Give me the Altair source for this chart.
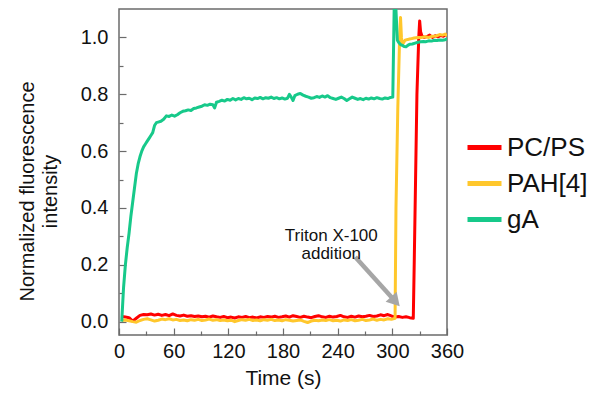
import altair as alt
import pandas as pd

# ---------------- data ----------------
series_names = ["PC/PS", "PAH[4]", "gA"]
series_colors = ["#FF0000", "#FFC72C", "#17C98A"]

red_t = [3, 7, 11, 15, 19, 23, 27, 31, 35, 39, 43, 47, 51, 55, 59, 63, 67, 71, 75, 79,
         83, 87, 91, 95, 99, 103, 107, 111, 115, 119, 123, 127, 131, 135, 139, 143, 147, 151, 155, 159,
         163, 167, 171, 175, 179, 183, 187, 191, 195, 199, 203, 207, 211, 215, 219, 223, 227, 231, 235, 239,
         243, 247, 251, 255, 259, 263, 267, 271, 275, 279, 283, 287, 291, 295, 299, 303, 307, 311, 315, 319,
         323, 324, 325.5, 327, 329, 330, 331, 332.5, 335, 338, 341, 344, 347, 350, 353, 356, 359, 360]
red_v = [0.018, 0.016, 0.014, 0.002, 0.012, 0.022, 0.025, 0.024, 0.027, 0.023, 0.026, 0.022, 0.025, 0.021, 0.027, 0.022, 0.020, 0.023, 0.019, 0.021,
         0.018, 0.020, 0.017, 0.019, 0.016, 0.020, 0.017, 0.015, 0.018, 0.014, 0.016, 0.013, 0.017, 0.015, 0.018, 0.014, 0.016, 0.013, 0.017, 0.015,
         0.018, 0.016, 0.019, 0.015, 0.017, 0.020, 0.016, 0.021, 0.018, 0.015, 0.019, 0.016, 0.014, 0.018, 0.021, 0.017, 0.015, 0.019, 0.016, 0.018,
         0.022, 0.017, 0.015, 0.019, 0.016, 0.020, 0.017, 0.019, 0.022, 0.018, 0.020, 0.024, 0.021, 0.025, 0.020, 0.016, 0.018, 0.015, 0.017, 0.014,
         0.012, 0.20, 0.50, 0.80, 1.00, 1.058, 1.02, 1.005, 1.000, 1.003, 1.008, 1.000, 1.006, 1.002, 1.007, 1.004, 1.010, 1.005]

yel_t = [3, 7, 11, 15, 19, 23, 27, 31, 35, 39, 43, 47, 51, 55, 59, 63, 67, 71, 75, 79,
         83, 87, 91, 95, 99, 103, 107, 111, 115, 119, 123, 127, 131, 135, 139, 143, 147, 151, 155, 159,
         163, 167, 171, 175, 179, 183, 187, 191, 195, 199, 203, 207, 211, 215, 219, 223, 227, 231, 235, 239,
         243, 247, 251, 255, 259, 263, 267, 271, 275, 279, 283, 287, 291, 295, 299, 303,
         304, 306, 308, 309, 310, 311, 312, 314, 317, 320, 324, 328, 332, 336, 340, 344, 348, 352, 355, 358, 360]
yel_v = [0.004, 0.006, 0.003, 0.000, -0.002, 0.004, 0.008, 0.010, 0.006, 0.002, 0.005, 0.009, 0.007, 0.010, 0.006, 0.008, 0.004, 0.006, 0.003, 0.007,
         0.005, 0.008, 0.004, 0.006, 0.009, 0.005, 0.007, 0.004, 0.006, 0.003, 0.005, 0.000, 0.004, 0.007, 0.005, 0.008, 0.004, 0.006, 0.003, 0.007,
         0.005, 0.008, 0.004, 0.006, 0.003, 0.007, 0.005, 0.002, 0.004, 0.006, 0.001, -0.003, 0.002, 0.005, 0.003, 0.006, 0.004, 0.007, 0.003, 0.005,
         0.002, 0.006, 0.004, 0.007, 0.003, 0.005, 0.008, 0.004, 0.006, 0.009, 0.005, 0.008, 0.006, 0.010, 0.008, 0.012,
         0.40, 0.75, 1.00, 1.07, 1.00, 0.975, 0.980, 0.990, 0.993, 0.995, 0.998, 1.000, 1.000, 1.002, 1.000, 1.004, 1.005, 1.010, 1.008, 1.012, 1.005]

grn_t = [3, 5, 7, 9, 11, 13, 15, 17, 19, 21, 23, 25, 27, 29, 31, 33, 35, 37, 39, 41,
         43, 46, 49, 52, 55, 58, 61, 64, 67, 70, 73, 76, 79, 82, 85, 88, 91, 94, 97, 100,
         103, 105, 107, 110, 113, 116, 119, 122, 125, 128, 131, 134, 137, 140, 143, 146, 149, 152, 155, 158,
         161, 164, 167, 170, 173, 176, 179, 182, 185, 187, 189, 191, 193, 196, 199, 202, 205, 208, 211, 214,
         217, 220, 223, 226, 229, 232, 235, 238, 241, 244, 247, 250, 253, 256, 259, 262, 265, 268, 271, 274,
         277, 280, 283, 286, 289, 292, 295, 298, 300.5, 302.5, 305.5, 307, 309, 311, 313, 315, 317, 319, 322, 325,
         328, 331, 334, 337, 340, 343, 346, 349, 352, 355, 358, 360]
grn_v = [0.000, 0.120, 0.200, 0.260, 0.310, 0.370, 0.420, 0.470, 0.520, 0.555, 0.580, 0.600, 0.615, 0.625, 0.635, 0.645, 0.655, 0.665, 0.690, 0.700,
         0.702, 0.705, 0.712, 0.724, 0.722, 0.727, 0.723, 0.728, 0.735, 0.740, 0.742, 0.745, 0.743, 0.750, 0.752, 0.755, 0.758, 0.763, 0.761, 0.765,
         0.763, 0.752, 0.772, 0.775, 0.779, 0.776, 0.782, 0.779, 0.785, 0.780, 0.785, 0.782, 0.788, 0.784, 0.786, 0.781, 0.787, 0.785, 0.789, 0.784,
         0.788, 0.786, 0.790, 0.785, 0.788, 0.784, 0.787, 0.783, 0.786, 0.800, 0.790, 0.778, 0.795, 0.800, 0.803, 0.797, 0.793, 0.790, 0.786, 0.788,
         0.792, 0.789, 0.794, 0.790, 0.795, 0.788, 0.785, 0.782, 0.786, 0.790, 0.785, 0.778, 0.784, 0.790, 0.786, 0.782, 0.785, 0.781, 0.786, 0.783,
         0.787, 0.784, 0.788, 0.785, 0.783, 0.787, 0.785, 0.789, 0.790, 1.200, 0.990, 0.982, 0.975, 0.972, 0.968, 0.967, 0.972, 0.976, 0.977, 0.980,
         0.983, 0.985, 0.986, 0.985, 0.988, 0.987, 0.990, 0.989, 0.991, 0.990, 0.992, 0.995]

x_major = [0, 60, 120, 180, 240, 300, 360]
x_minor = [30, 90, 150, 210, 270, 330]
y_major = [0.0, 0.2, 0.4, 0.6, 0.8, 1.0]
y_minor = [0.1, 0.3, 0.5, 0.7, 0.9]

note_t = [233]
note_v = [0.300]
note_text = ["Triton X-100\naddition"]

arrow_t = [259.3, 303.4]
arrow_v = [0.2275, 0.071]

# ---------------- tables ----------------
frames = []
for name, ts, vs in zip(series_names, [red_t, yel_t, grn_t], [red_v, yel_v, grn_v]):
    frames.append(pd.DataFrame({"t": ts, "v": vs, "series": name}))
df = pd.concat(frames, ignore_index=True)

note_df = pd.DataFrame({"t": note_t, "v": note_v, "label": note_text})
arrow_df = pd.DataFrame({"t0": [arrow_t[0]], "t1": [arrow_t[1]], "v0": [arrow_v[0]], "v1": [arrow_v[1]]})
head_df = pd.DataFrame({"t": [arrow_t[1]], "v": [arrow_v[1]]})

W, H = 328, 326
FONT = "Liberation Sans"
AX = "#6b6b6b"
TXT = "#111111"

x_scale = alt.Scale(domain=[0, 360], nice=False, zero=False)
y_scale = alt.Scale(domain=[-0.047, 1.1], nice=False, zero=False)
color_scale = alt.Scale(domain=series_names, range=series_colors)

legend = alt.Legend(
    title=None, orient="none", legendX=346, legendY=119,
    symbolType="stroke", symbolStrokeWidth=5, symbolSize=1156,
    labelFontSize=26, labelFont=FONT, labelColor=TXT, labelOffset=3,
    rowPadding=3, padding=0,
)

x_major_axis = alt.Axis(
    orient="bottom", values=x_major, offset=-7, tickSize=7, tickColor=AX, tickWidth=1.2,
    domain=False, grid=False, labelFontSize=20, labelFont=FONT, labelColor=TXT,
    labelPadding=6, labelFlush=False, title="Time (s)", titleFontSize=21, titleFont=FONT,
    titleFontWeight="normal", titleColor=TXT, titlePadding=6,
)
x_minor_axis = alt.Axis(
    orient="bottom", values=x_minor, offset=-4, tickSize=4, tickColor=AX, tickWidth=1.2,
    domain=False, grid=False, labels=False, title=None,
)
y_major_axis = alt.Axis(
    orient="left", values=y_major, format=".1f", offset=-7, tickSize=7, tickColor=AX, tickWidth=1.2,
    domain=False, grid=False, labelFontSize=20, labelFont=FONT, labelColor=TXT,
    labelPadding=11, labelFlush=False, title=["Normalized fluorescence", "intensity"], titleFontSize=20,
    titleFont=FONT, titleFontWeight="normal", titleColor=TXT, titlePadding=20,
    titleLineHeight=23, titleY=182,
)
y_minor_axis = alt.Axis(
    orient="left", values=y_minor, offset=-4, tickSize=4, tickColor=AX, tickWidth=1.2,
    domain=False, grid=False, labels=False, title=None,
)


def line_layer(name, xaxis, yaxis):
    return alt.Chart(df).transform_filter(alt.datum.series == name).mark_line(
        strokeWidth=3, clip=True, strokeJoin="round"
    ).encode(
        x=alt.X("t:Q", scale=x_scale, axis=xaxis),
        y=alt.Y("v:Q", scale=y_scale, axis=yaxis),
        color=alt.Color("series:N", scale=color_scale, legend=legend),
        order=alt.Order("t:Q"),
    )


red_layer = line_layer("PC/PS", x_major_axis, y_major_axis)
yel_layer = line_layer("PAH[4]", x_minor_axis, y_minor_axis)
grn_layer = line_layer("gA", None, None)

arrow_layer = alt.Chart(arrow_df).mark_rule(color="#A6A6A6", strokeWidth=4.5).encode(
    x=alt.X("t0:Q", scale=x_scale, axis=None), x2="t1:Q",
    y=alt.Y("v0:Q", scale=y_scale, axis=None), y2="v1:Q",
)
head_layer = alt.Chart(head_df).mark_point(
    shape="triangle-up", angle=138, size=220, filled=True, color="#A6A6A6", opacity=1
).encode(
    x=alt.X("t:Q", scale=x_scale, axis=None),
    y=alt.Y("v:Q", scale=y_scale, axis=None),
)
note_layer = alt.Chart(note_df).mark_text(
    lineBreak="\n", fontSize=17, font=FONT, align="center", baseline="middle",
    lineHeight=18, color=TXT
).encode(
    x=alt.X("t:Q", scale=x_scale, axis=None),
    y=alt.Y("v:Q", scale=y_scale, axis=None),
    text="label:N",
)

chart = alt.layer(
    red_layer, yel_layer, grn_layer, arrow_layer, head_layer, note_layer
).resolve_scale(
    x="shared", y="shared", color="shared"
).resolve_axis(
    x="independent", y="independent"
).properties(
    width=W, height=H,
    autosize=alt.AutoSizeParams(type="none"),
    padding={"left": 119, "top": 9, "right": 595 - 119 - W, "bottom": 400 - 9 - H},
    background="white",
).configure_view(
    stroke=AX, strokeWidth=1.5
)

chart.save("out.html", embed_options={"renderer": "svg", "actions": False})
